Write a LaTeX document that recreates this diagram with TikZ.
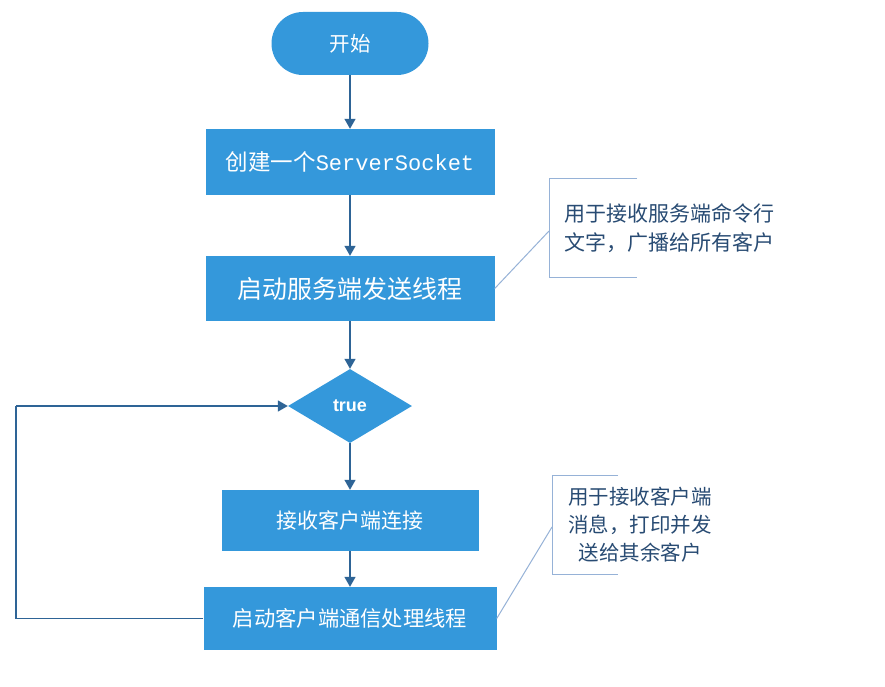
\documentclass[tikz,border=0pt]{standalone}
\usepackage{fontspec}
\setmainfont{Noto Sans CJK SC}
\newfontfamily\cjk{Noto Sans CJK SC}
\newfontfamily\monofnt{Liberation Mono}
\newfontfamily\sansfnt{Liberation Sans}
\usetikzlibrary{shapes.geometric,arrows.meta}
\definecolor{boxblue}{RGB}{52,152,219}
\definecolor{arrowblue}{RGB}{46,100,150}
\definecolor{notegray}{RGB}{150,178,215}
\definecolor{notetext}{RGB}{40,75,115}
\tikzset{
  stepbox/.style={rectangle, fill=boxblue, draw=none, text=white, inner sep=0pt},
  pill/.style={rectangle, rounded corners=31.5pt, fill=boxblue, text=white, minimum width=157pt, minimum height=63pt, inner sep=0pt},
  decision/.style={diamond, fill=boxblue, text=white, minimum width=124pt, minimum height=74pt, inner sep=0pt, aspect=1.68},
  flow/.style={draw=arrowblue, line width=1.4pt, -{Triangle[length=10pt,width=11pt]}},
  loopline/.style={draw=arrowblue, line width=1.4pt},
  noteline/.style={draw=notegray, line width=1pt},
  notetxt/.style={text=notetext, font=\cjk\fontsize{21}{29}\selectfont, align=left, inner sep=0pt}
}
\begin{document}
\begin{tikzpicture}[x=1pt,y=-1pt]
\useasboundingbox (0,0) rectangle (885,687);
\fill[white] (0,0) rectangle (885,687);

\node[pill, font=\cjk\fontsize{20.5}{22}\selectfont] (start) at (350,43.5) {开始};
\node[stepbox, minimum width=289pt, minimum height=66pt, font=\cjk\fontsize{22.5}{26}\selectfont] (b1) at (350,162) {创建一个{\monofnt\fontsize{22}{26}\selectfont ServerSocket}};
\node[stepbox, minimum width=289pt, minimum height=65pt, font=\cjk\fontsize{25}{28}\selectfont] (b2) at (350,288.5) {启动服务端发送线程};
\node[decision, font=\sansfnt\bfseries\fontsize{18}{20}\selectfont] (d) at (350,406) {true};
\node[stepbox, minimum width=257pt, minimum height=61pt, font=\cjk\fontsize{21}{24}\selectfont] (b3) at (350,520.5) {接收客户端连接};
\node[stepbox, minimum width=293pt, minimum height=63pt, font=\cjk\fontsize{21.3}{24}\selectfont] (b4) at (350,618.5) {启动客户端通信处理线程};

\draw[flow] (start.south) -- (b1.north);
\draw[flow] (b1.south) -- (b2.north);
\draw[flow] (b2.south) -- (d.north);
\draw[flow] (d.south) -- (b3.north);
\draw[flow] (b3.south) -- (b4.north);

\coordinate (l1) at (16,618.5);
\coordinate (l2) at (16,406);
\draw[loopline] (b4.west) -- (l1) -- (l2);
\draw[flow] (l2) -- (d.west);

% note 1
\coordinate (n1a) at (637,178);
\coordinate (n1b) at (549,178);
\coordinate (n1c) at (549,277);
\coordinate (n1d) at (637,277);
\coordinate (n1m) at (549,231);
\draw[noteline] (n1a) -- (n1b) -- (n1c) -- (n1d);
\draw[noteline] (b2.east) -- (n1m);
\node[notetxt, anchor=west] (t1) at (564,228) {用于接收服务端命令行\\文字，广播给所有客户};

% note 2
\coordinate (n2a) at (618,475);
\coordinate (n2b) at (552,475);
\coordinate (n2c) at (552,574);
\coordinate (n2d) at (618,574);
\coordinate (n2m) at (552,527);
\draw[noteline] (n2a) -- (n2b) -- (n2c) -- (n2d);
\draw[noteline] (b4.east) -- (n2m);
\node[notetxt, align=center, anchor=center, font=\cjk\fontsize{20.5}{28}\selectfont] (t2) at (640,525) {用于接收客户端\\消息，打印并发\\送给其余客户};
\end{tikzpicture}
\end{document}
